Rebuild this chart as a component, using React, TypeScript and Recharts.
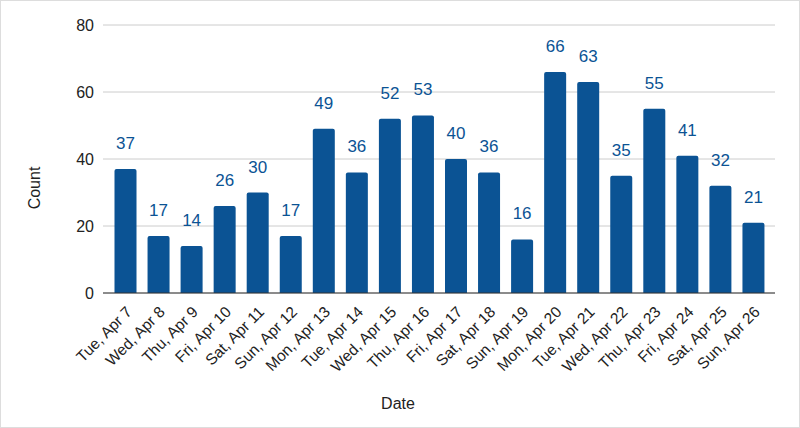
import { BarChart, Bar, XAxis, YAxis, CartesianGrid, LabelList, Label } from 'recharts'

const dates = [
  'Tue, Apr 7', 'Wed, Apr 8', 'Thu, Apr 9', 'Fri, Apr 10', 'Sat, Apr 11',
  'Sun, Apr 12', 'Mon, Apr 13', 'Tue, Apr 14', 'Wed, Apr 15', 'Thu, Apr 16',
  'Fri, Apr 17', 'Sat, Apr 18', 'Sun, Apr 19', 'Mon, Apr 20', 'Tue, Apr 21',
  'Wed, Apr 22', 'Thu, Apr 23', 'Fri, Apr 24', 'Sat, Apr 25', 'Sun, Apr 26',
]
const counts = [37, 17, 14, 26, 30, 17, 49, 36, 52, 53, 40, 36, 16, 66, 63, 35, 55, 41, 32, 21]
const yTicks = [0, 20, 40, 60, 80]

const FONT = '"Liberation Sans", Arial, sans-serif'
const BLUE = '#0b5394'

const data = dates.map((date, i) => ({ date, count: counts[i] }))

function DateTick({ x, y, payload }: any) {
  return (
    <g transform={`translate(${x + 4},${y + 8})`}>
      <text
        x={0}
        y={0}
        dy="0.35em"
        textAnchor="end"
        transform="rotate(-45)"
        fill="#222"
        fontSize={15.5}
        fontFamily={FONT}
      >
        {payload.value}
      </text>
    </g>
  )
}

export default function App() {
  return (
    <div
      style={{
        position: 'absolute',
        top: 0,
        left: 0,
        width: 800,
        height: 428,
        border: '1px solid #ddd',
        boxSizing: 'border-box',
        background: '#fff',
      }}
    >
      <BarChart
        width={800}
        height={428}
        data={data}
        margin={{ top: 25, right: 25, bottom: 0, left: 0 }}
        style={{ position: 'absolute', top: -1, left: -1 }}
      >
        <CartesianGrid vertical={false} stroke="#ccc" />
        <XAxis
          dataKey="date"
          height={135}
          interval={0}
          tickLine={false}
          axisLine={{ stroke: '#333' }}
          padding={{ left: 5.5, right: 5.5 }}
          tick={<DateTick />}
        >
          <Label
            content={() => (
              <text x={398} y={403} dy="0.35em" textAnchor="middle" fill="#222" fontSize={16} fontFamily={FONT}>
                Date
              </text>
            )}
          />
        </XAxis>
        <YAxis
          width={103}
          domain={[0, 80]}
          ticks={yTicks}
          axisLine={false}
          tickLine={false}
          tickSize={0}
          tickMargin={9}
          tick={{ fill: '#222', fontSize: 16, fontFamily: FONT }}
        >
          <Label
            content={() => (
              <text
                x={34}
                y={188}
                dy="0.35em"
                textAnchor="middle"
                transform="rotate(-90, 34, 188)"
                fill="#222"
                fontSize={16}
                fontFamily={FONT}
              >
                Count
              </text>
            )}
          />
        </YAxis>
        <Bar dataKey="count" fill={BLUE} barSize={22} radius={[2, 2, 0, 0]} isAnimationActive={false}>
          <LabelList dataKey="count" position="top" offset={20} fill={BLUE} fontSize={17} fontFamily={FONT} />
        </Bar>
      </BarChart>
    </div>
  )
}
